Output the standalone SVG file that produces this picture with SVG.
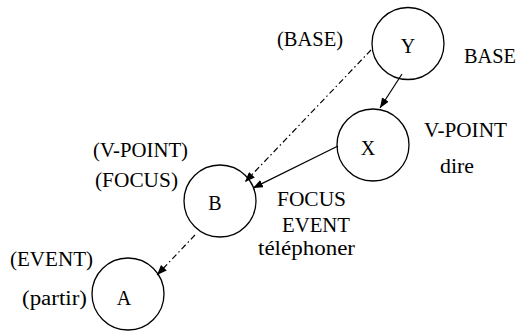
<svg xmlns="http://www.w3.org/2000/svg" width="518" height="332" viewBox="0 0 518 332">
<defs>
<marker id="ah" viewBox="0 0 10 8" refX="10" refY="4" markerWidth="10" markerHeight="8" markerUnits="userSpaceOnUse" orient="auto">
<path d="M0,0 L10,4 L0,8 Z" fill="#000"/>
</marker>
</defs>
<rect width="518" height="332" fill="#fff"/>
<g id="connectors" fill="none" stroke="#000" stroke-width="1.2">
<line x1="402" y1="74" x2="380" y2="108" marker-end="url(#ah)"/>
<line x1="338" y1="146" x2="253" y2="188" marker-end="url(#ah)"/>
<line x1="371" y1="50" x2="245" y2="182" stroke-dasharray="6,3,1.5,3" marker-end="url(#ah)"/>
<line x1="195" y1="235" x2="157" y2="275" stroke-dasharray="6,3,1.5,3" marker-end="url(#ah)"/>
</g>
<g id="node-Y">
<circle cx="408" cy="43.5" r="36" fill="none" stroke="#000" stroke-width="1.3"/>
<text font-family="Liberation Serif" font-size="20" x="408" y="53" text-anchor="middle">Y</text>
</g>
<g id="node-X">
<circle cx="373" cy="145" r="36" fill="none" stroke="#000" stroke-width="1.3"/>
<text font-family="Liberation Serif" font-size="20" x="368" y="155" text-anchor="middle">X</text>
</g>
<g id="node-B">
<circle cx="220" cy="201" r="36" fill="none" stroke="#000" stroke-width="1.3"/>
<text font-family="Liberation Serif" font-size="20" x="215" y="210" text-anchor="middle">B</text>
</g>
<g id="node-A">
<circle cx="128" cy="294" r="36" fill="none" stroke="#000" stroke-width="1.3"/>
<text font-family="Liberation Serif" font-size="20" x="124" y="305" text-anchor="middle">A</text>
</g>
<g id="labels">
<text font-family="Liberation Serif" font-size="20" x="277" y="46" textLength="66" lengthAdjust="spacingAndGlyphs">(BASE)</text>
<text font-family="Liberation Serif" font-size="20" x="464" y="63" textLength="52" lengthAdjust="spacingAndGlyphs">BASE</text>
<text font-family="Liberation Serif" font-size="20" x="424" y="137" textLength="83" lengthAdjust="spacingAndGlyphs">V-POINT</text>
<text font-family="Liberation Serif" font-size="20" x="440" y="173" textLength="34" lengthAdjust="spacingAndGlyphs">dire</text>
<text font-family="Liberation Serif" font-size="20" x="277" y="206" textLength="69" lengthAdjust="spacingAndGlyphs">FOCUS</text>
<text font-family="Liberation Serif" font-size="20" x="282" y="232" textLength="68" lengthAdjust="spacingAndGlyphs">EVENT</text>
<text font-family="Liberation Serif" font-size="20" x="258" y="255" textLength="97" lengthAdjust="spacingAndGlyphs">t&#233;l&#233;phoner</text>
<text font-family="Liberation Serif" font-size="20" x="93" y="157" textLength="95" lengthAdjust="spacingAndGlyphs">(V-POINT)</text>
<text font-family="Liberation Serif" font-size="20" x="95" y="187" textLength="83" lengthAdjust="spacingAndGlyphs">(FOCUS)</text>
<text font-family="Liberation Serif" font-size="20" x="10" y="266" textLength="83" lengthAdjust="spacingAndGlyphs">(EVENT)</text>
<text font-family="Liberation Serif" font-size="20" x="22" y="305" textLength="65" lengthAdjust="spacingAndGlyphs">(partir)</text>
</g>
</svg>
